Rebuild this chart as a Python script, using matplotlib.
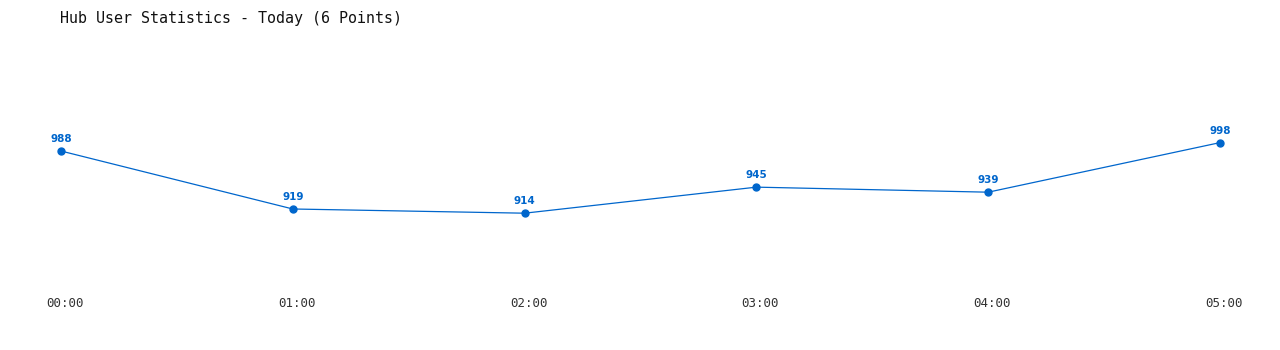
import matplotlib
matplotlib.use('Agg')
import matplotlib.pyplot as plt
import matplotlib.transforms as mtransforms

hours = ['00:00', '01:00', '02:00', '03:00', '04:00', '05:00']
users = [988, 919, 914, 945, 939, 998]

W, H = 1280, 350
fig = plt.figure(figsize=(W/100, H/100), dpi=100)
# axes placed in pixel terms: x 61..1220, y 40..290
ax = fig.add_axes([61/W, 1-290/H, (1220-61)/W, 250/H])
ax.set_xlim(0, 5)
ax.set_ylim(822.6, 1120.1)

col = '#0066cc'
xs = list(range(len(users)))
ax.plot(xs, users, color=col, lw=0.9, marker='o', ms=5, clip_on=False)
for x, v in zip(xs, users):
    ax.annotate(str(v), (x, v), xytext=(0, 5), textcoords='offset points',
                ha='center', va='bottom', fontsize=7.5, fontweight='bold',
                color=col, family='DejaVu Sans')

ax.set_xticks(xs)
ax.set_xticklabels(hours, family='DejaVu Sans Mono', fontsize=9, color='#333333')
ax.tick_params(axis='x', length=0, pad=5)
ax.set_yticks([])
shift = mtransforms.ScaledTranslation(4/100, 0, fig.dpi_scale_trans)
for lab in ax.get_xticklabels():
    lab.set_transform(lab.get_transform() + shift)
for s in ax.spines.values():
    s.set_visible(False)

fig.text(60/W, 1-18/H, 'Hub User Statistics - Today (6 Points)',
         family='DejaVu Sans Mono', fontsize=10.8, color='#111111',
         ha='left', va='center')

fig.savefig('out.png', dpi=100)
